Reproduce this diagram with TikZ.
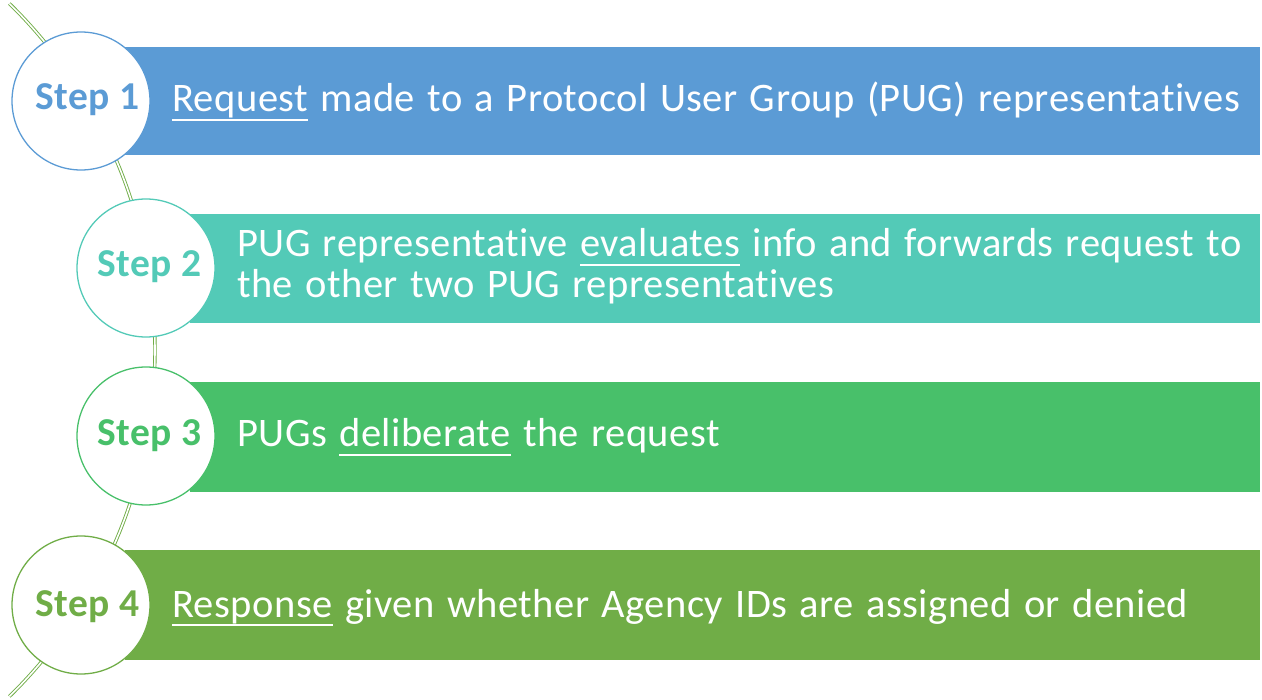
\documentclass[tikz,border=0pt]{standalone}
\usepackage{fontspec}
\setmainfont{Carlito}
\newfontfamily\bartextfont[LetterSpace=1.2,WordSpace=1.28,Ligatures=NoCommon]{Carlito}
\newfontfamily\steplabelfont[LetterSpace=1.5,Ligatures=NoCommon]{Carlito}
\definecolor{cA}{HTML}{5B9BD5}
\definecolor{cB}{HTML}{53CAB7}
\definecolor{cC}{HTML}{48C06A}
\definecolor{cD}{HTML}{70AD47}
\newcommand\uln[1]{\setbox0\hbox{#1}\rlap{\rule[-9pt]{\wd0}{1.8pt}}#1}
\tikzset{
  bar/.style={fill=#1, draw=none},
  stepcircle/.style={circle, draw=#1, fill=white, line width=1.3pt, minimum size=138pt, inner sep=0pt},
  steplabel/.style={text=#1, font=\steplabelfont\fontsize{39.5}{44}\selectfont\bfseries, anchor=base west, inner sep=0pt},
  bartext/.style={text=white, font=\bartextfont\fontsize{40.5}{44}\selectfont, anchor=base west, inner sep=0pt, align=left},
  spine/.style={draw=cD, line width=0.9pt, double=white, double distance=1.6pt}
}
\begin{document}
\begin{tikzpicture}[x=1pt,y=-1pt]
\useasboundingbox (0,0) rectangle (1262,700);
% spine arc
\draw[spine] (-330,350) ++(-45.6:485) arc[start angle=-45.6, end angle=45.6, radius=485];
% bars
\fill[bar=cA] (125,47) rectangle (1260,155);
\fill[bar=cB] (190,214) rectangle (1260,323);
\fill[bar=cC] (190,382) rectangle (1260,492);
\fill[bar=cD] (125,550) rectangle (1260,660);
% circles
\node[stepcircle=cA] (c1) at (81,101) {};
\node[stepcircle=cB] (c2) at (146,268) {};
\node[stepcircle=cC] (c3) at (146,436) {};
\node[stepcircle=cD] (c4) at (81,605) {};
% step labels
\node[steplabel=cA] (s1) at (35,110) {Step 1};
\node[steplabel=cB] (s2) at (97,277) {Step 2};
\node[steplabel=cC] (s3) at (97,446) {Step 3};
\node[steplabel=cD] (s4) at (35,616) {Step 4};
% bar texts
\node[bartext] (t1) at (172,112) {\uln{Request} made to a Protocol User Group (PUG) representatives};
\node[bartext] (t2) at (237,257) {PUG representative \uln{evaluates} info and forwards request to};
\node[bartext] (t2b) at (237,298) {the other two PUG representatives};
\node[bartext] (t3) at (237,447) {PUGs \uln{deliberate} the request};
\node[bartext] (t4) at (172,617) {\uln{Response} given whether Agency IDs are assigned or denied};
\end{tikzpicture}
\end{document}
